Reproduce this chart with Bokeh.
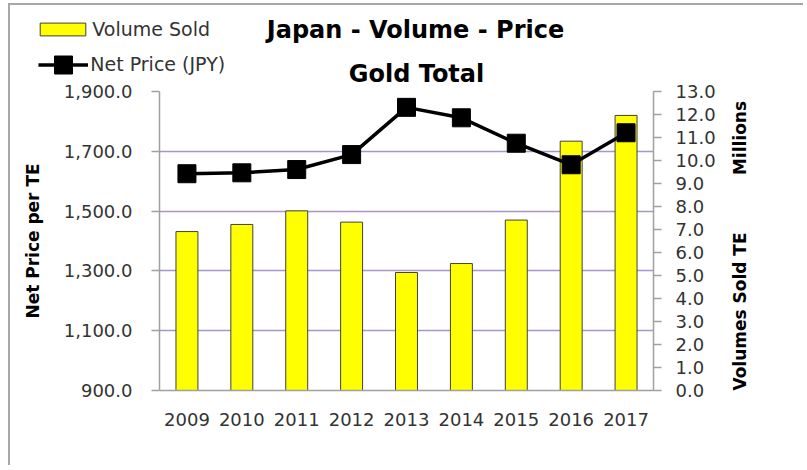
from math import pi
from bokeh.plotting import figure
from bokeh.models import (Range1d, LinearAxis, NumeralTickFormatter, Legend,
                          LegendItem, Label, ColumnDataSource)
from bokeh.embed import file_html
from bokeh.resources import INLINE

# ---- data ----
years = ["2009", "2010", "2011", "2012", "2013", "2014", "2015", "2016", "2017"]
volume_millions = [6.91, 7.22, 7.81, 7.32, 5.13, 5.52, 7.41, 10.84, 11.96]
net_price_jpy = [1625, 1628, 1639, 1689, 1847, 1812, 1727, 1655, 1762]
left_ticks = [900, 1100, 1300, 1500, 1700, 1900]
right_ticks = [0, 1, 2, 3, 4, 5, 6, 7, 8, 9, 10, 11, 12, 13]

FONT = "DejaVu Sans"
GRID = "#A795CC"
AXIS = "#A0A0A0"
TXT = "#333333"
BAR_FILL = "#FFFF00"
BAR_LINE = "#404040"

W, H = 795, 462

src = ColumnDataSource(dict(year=years, volume=volume_millions, price=net_price_jpy))

# ================= main chart =================
p = figure(x_range=years, y_range=Range1d(900, 1900), width=W, height=H,
           output_backend="svg", toolbar_location=None,
           min_border_left=149, min_border_right=152,
           min_border_top=86, min_border_bottom=77)
p.title.visible = False
p.extra_y_ranges = {"vol": Range1d(0, 13)}
p.outline_line_color = None
p.background_fill_color = "white"
p.border_fill_color = "white"
p.styles = {"border-left": "2px solid #A6A6A6", "border-top": "2px solid #A6A6A6",
            "margin-left": "8px", "margin-top": "3px"}

p.xgrid.grid_line_color = None
p.ygrid.grid_line_color = GRID
p.ygrid.grid_line_width = 1.5

ly = p.yaxis[0]
ly.ticker = left_ticks
ly.formatter = NumeralTickFormatter(format="0,0.0")
ly.major_tick_out = 8
ly.major_tick_in = 0
ly.minor_tick_line_color = None
ly.axis_line_color = AXIS
ly.axis_line_width = 1.5
ly.major_tick_line_color = AXIS
ly.major_tick_line_width = 1.5
ly.major_label_standoff = 19
ly.major_label_text_font = FONT
ly.major_label_text_font_size = "18px"
ly.major_label_text_color = TXT
ly.axis_label = "Net Price per TE"
ly.axis_label_text_font = FONT
ly.axis_label_text_font_size = "17px"
ly.axis_label_text_font_style = "bold"
ly.axis_label_text_color = "black"
ly.axis_label_standoff = 18

ry = LinearAxis(y_range_name="vol", ticker=right_ticks,
                formatter=NumeralTickFormatter(format="0.0"))
ry.major_tick_out = 8
ry.major_tick_in = 0
ry.minor_tick_line_color = None
ry.axis_line_color = AXIS
ry.axis_line_width = 1.5
ry.major_tick_line_color = AXIS
ry.major_tick_line_width = 1.5
ry.major_label_standoff = 14
ry.major_label_text_font = FONT
ry.major_label_text_font_size = "18px"
ry.major_label_text_color = TXT
p.add_layout(ry, "right")

xa = p.xaxis[0]
xa.major_tick_out = 0
xa.major_tick_in = 0
xa.axis_line_color = AXIS
xa.axis_line_width = 1.5
xa.major_label_standoff = 22
xa.major_label_text_font = FONT
xa.major_label_text_font_size = "18px"
xa.major_label_text_color = TXT

bars = p.vbar(x="year", top="volume", bottom=0, width=0.4, source=src,
              y_range_name="vol", fill_color=BAR_FILL, line_color=BAR_LINE,
              line_width=1)
line = p.line(x="year", y="price", source=src, line_color="black", line_width=3.5)
pts = p.scatter(x="year", y="price", source=src, marker="square", size=18,
                fill_color="black", line_color="black", line_width=1)

# ============ overlay: titles, legend, right-axis titles ============
# same canvas size, placed exactly on top of the main chart; 1 unit = 1 px
ov = figure(x_range=Range1d(0, W), y_range=Range1d(0, H), width=W, height=H,
            output_backend="svg", toolbar_location=None, min_border=0,
            x_axis_location=None, y_axis_location=None)
ov.title.visible = False
ov.grid.visible = False
ov.outline_line_color = None
ov.background_fill_alpha = 0
ov.border_fill_alpha = 0
ov.styles = {"position": "absolute", "left": "10px", "top": "5px"}

# legend swatch renderers: styled like the chart's glyphs, their single
# helper point lies outside the visible canvas (only the legend shows them)
swatch_src = ColumnDataSource(dict(x=[-1000], y=[-1000]))
sw_bar = ov.vbar(x="x", top="y", bottom=-1010, width=1, source=swatch_src,
                 fill_color=BAR_FILL, line_color=BAR_LINE, line_width=1)
sw_line = ov.line(x="x", y="y", source=swatch_src, line_color="black", line_width=3.5)
sw_pts = ov.scatter(x="x", y="y", source=swatch_src, marker="square",
                    fill_color="black", line_color="black", line_width=1)

common = dict(padding=0, margin=0, spacing=0, border_line_color=None,
              background_fill_alpha=0, label_text_font=FONT,
              label_text_font_size="19px", label_text_color=TXT)
leg1 = Legend(items=[LegendItem(label="Volume Sold", renderers=[sw_bar])],
              location=(24.3, 426.5), glyph_width=57, glyph_height=16,
              label_height=24, label_standoff=1, **common)
leg2 = Legend(items=[LegendItem(label="Net Price (JPY)", renderers=[sw_line, sw_pts])],
              location=(28.3, 380.5), glyph_width=50, glyph_height=45,
              label_standoff=2, **common)
ov.add_layout(leg1)
ov.add_layout(leg2)

title_kw = dict(text_font=FONT, text_font_size="24px", text_font_style="bold",
                text_color="black", text_align="center", text_baseline="alphabetic")
ov.add_layout(Label(x=405, y=437.3, text="Japan - Volume - Price", **title_kw))
ov.add_layout(Label(x=406, y=393.5, text="Gold Total", **title_kw))

rt_kw = dict(text_font=FONT, text_font_size="17px", text_font_style="bold",
             text_color="black", text_align="center", text_baseline="middle",
             angle=pi / 2)
ov.add_layout(Label(x=729, y=156, text="Volumes Sold TE", **rt_kw))
ov.add_layout(Label(x=729, y=329.5, text="Millions", **rt_kw))

open("out.html", "w").write(file_html([p, ov], INLINE))
